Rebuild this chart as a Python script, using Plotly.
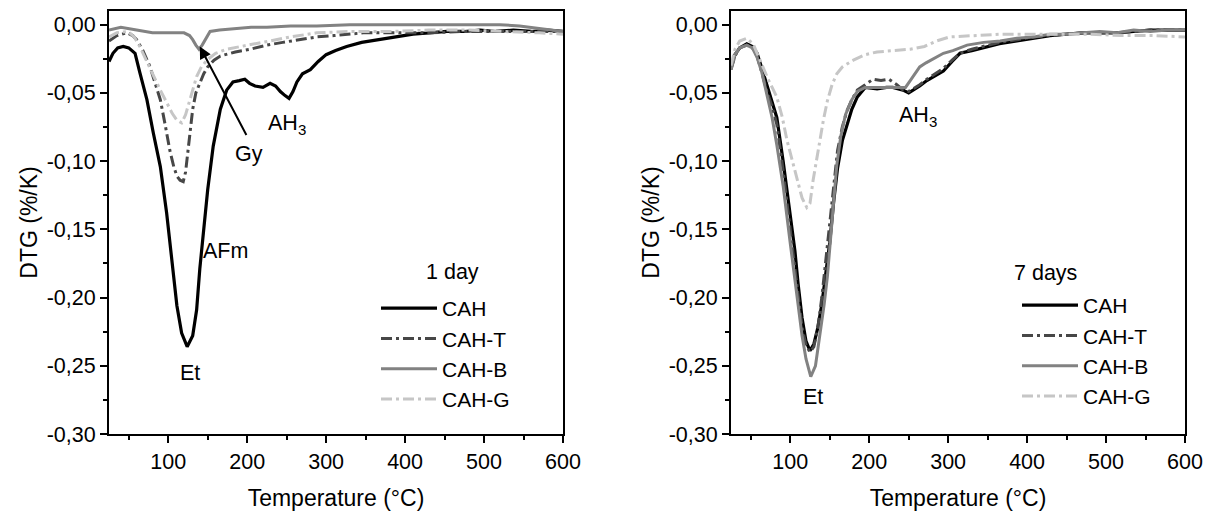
import plotly.graph_objects as go

# ---------------- data: 1 day ----------------
cah_1d_x = [25, 30, 36, 43, 50, 58, 64, 73, 81, 90, 98, 105, 111, 117, 124, 131, 136, 140, 145, 150,
            157, 166, 174, 182, 190, 197, 203, 210, 220, 229, 236, 242, 248, 253, 258, 263, 270, 280, 290, 300,
            312, 326, 345, 368, 390, 410, 430, 453, 475, 495, 515, 537, 560, 580, 600]
cah_1d_y = [-0.027, -0.021, -0.017, -0.016, -0.017, -0.021, -0.035, -0.055, -0.079, -0.104,
            -0.138, -0.172, -0.206, -0.226, -0.236, -0.228, -0.209, -0.179, -0.150, -0.121,
            -0.089, -0.062, -0.048, -0.042, -0.041, -0.040, -0.043, -0.045, -0.046, -0.043,
            -0.045, -0.049, -0.052, -0.054, -0.049, -0.042, -0.036, -0.033, -0.027, -0.022,
            -0.019, -0.016, -0.013, -0.011, -0.009, -0.007, -0.006, -0.005, -0.005, -0.004,
            -0.005, -0.004, -0.005, -0.004, -0.005]

caht_1d_x = [25, 35, 48, 55, 60, 68, 77, 84, 90, 96, 102, 107, 111, 115, 119, 122, 125, 128, 131, 135,
             140, 145, 150, 158, 166, 185, 204, 225, 245, 267, 288, 310, 347, 390, 432, 470, 510, 550, 600]
caht_1d_y = [-0.012, -0.008, -0.006, -0.008, -0.011, -0.019, -0.031, -0.043, -0.055, -0.073,
             -0.092, -0.104, -0.111, -0.114, -0.115, -0.108, -0.092, -0.076, -0.062, -0.050,
             -0.043, -0.036, -0.031, -0.026, -0.023, -0.020, -0.018, -0.015, -0.013, -0.011,
             -0.009, -0.008, -0.006, -0.006, -0.006, -0.005, -0.005, -0.005, -0.005]

cahb_1d_x = [25, 40, 60, 80, 100, 120, 127, 131, 135, 139, 143, 147, 153, 165, 182, 205, 225, 255, 288, 330,
             380, 430, 480, 520, 545, 575, 600]
cahb_1d_y = [-0.004, -0.002, -0.004, -0.006, -0.006, -0.006, -0.008, -0.011, -0.015, -0.018,
             -0.015, -0.011, -0.005, -0.004, -0.003, -0.002, -0.002, -0.001, -0.001, 0.000,
             0.000, 0.000, 0.000, 0.000, -0.001, -0.003, -0.005]

cahg_1d_x = [25, 35, 49, 57, 64, 72, 81, 90, 98, 105, 111, 117, 122, 128, 132, 136, 142, 149, 160, 174,
             200, 225, 255, 288, 330, 380, 430, 480, 530, 570, 600]
cahg_1d_y = [-0.009, -0.006, -0.005, -0.009, -0.016, -0.026, -0.038, -0.048, -0.057, -0.065,
             -0.070, -0.072, -0.066, -0.055, -0.046, -0.038, -0.031, -0.026, -0.021, -0.018,
             -0.015, -0.012, -0.009, -0.006, -0.005, -0.005, -0.004, -0.004, -0.005, -0.006, -0.007]

# ---------------- data: 7 days ----------------
cah_7d_x = [25, 30, 36, 45, 52, 58, 64, 71, 77, 83, 91, 100, 106, 110, 115, 120, 125, 130, 135, 140,
            144, 150, 155, 160, 166, 172, 178, 185, 195, 210, 222, 230, 243, 250, 256, 264, 273, 284, 294, 305,
            315, 330, 344, 365, 387, 408, 429, 450, 471, 492, 514, 535, 556, 578, 600]
cah_7d_y = [-0.031, -0.022, -0.017, -0.014, -0.016, -0.021, -0.032, -0.046, -0.056, -0.068,
            -0.100, -0.141, -0.166, -0.190, -0.215, -0.232, -0.239, -0.234, -0.222, -0.205,
            -0.188, -0.160, -0.130, -0.105, -0.085, -0.073, -0.062, -0.053, -0.046, -0.047,
            -0.046, -0.046, -0.048, -0.050, -0.048, -0.045, -0.041, -0.037, -0.034, -0.027,
            -0.021, -0.019, -0.017, -0.014, -0.012, -0.010, -0.008, -0.007, -0.006, -0.006,
            -0.006, -0.005, -0.004, -0.004, -0.004]

caht_7d_x = [25, 30, 36, 45, 52, 58, 64, 71, 77, 83, 91, 100, 106, 110, 115, 120, 125, 130, 135, 140,
             144, 150, 155, 160, 166, 172, 178, 185, 195, 205, 215, 225, 235, 243, 250, 256, 264, 273, 284, 294,
             305, 315, 330, 344, 365, 387, 408, 429, 450, 471, 492, 514, 535, 556, 578, 600]
caht_7d_y = [-0.033, -0.023, -0.017, -0.015, -0.017, -0.023, -0.035, -0.050, -0.060, -0.073,
             -0.107, -0.150, -0.178, -0.200, -0.222, -0.235, -0.240, -0.236, -0.222, -0.200,
             -0.178, -0.145, -0.115, -0.092, -0.075, -0.063, -0.055, -0.048, -0.044, -0.040,
             -0.041, -0.040, -0.044, -0.048, -0.049, -0.047, -0.044, -0.040, -0.036, -0.032,
             -0.026, -0.021, -0.018, -0.016, -0.013, -0.011, -0.009, -0.008, -0.007, -0.006,
             -0.006, -0.006, -0.005, -0.004, -0.004, -0.004]

cahb_7d_x = [25, 30, 36, 45, 52, 58, 64, 71, 77, 83, 91, 100, 106, 110, 115, 120, 126, 132, 138, 143,
             147, 151, 155, 159, 164, 170, 178, 185, 195, 210, 225, 240, 246, 252, 258, 264, 272, 281, 294, 306,
             324, 345, 366, 387, 408, 429, 450, 471, 492, 514, 535, 556, 578, 600]
cahb_7d_y = [-0.033, -0.022, -0.017, -0.015, -0.017, -0.024, -0.035, -0.052, -0.068, -0.088,
             -0.118, -0.160, -0.188, -0.208, -0.228, -0.245, -0.258, -0.250, -0.227, -0.205,
             -0.185, -0.160, -0.130, -0.103, -0.082, -0.066, -0.055, -0.049, -0.046, -0.046,
             -0.046, -0.046, -0.046, -0.041, -0.036, -0.031, -0.028, -0.025, -0.021, -0.019,
             -0.015, -0.013, -0.012, -0.010, -0.009, -0.007, -0.007, -0.006, -0.005, -0.006,
             -0.004, -0.005, -0.004, -0.004]

cahg_7d_x = [25, 30, 36, 45, 53, 62, 72, 83, 90, 96, 103, 109, 115, 121, 125, 129, 133, 138, 142, 147,
             153, 159, 166, 180, 195, 210, 230, 252, 270, 285, 302, 330, 366, 400, 440, 480, 520, 560, 600]
cahg_7d_y = [-0.030, -0.018, -0.012, -0.010, -0.014, -0.026, -0.040, -0.053, -0.068, -0.085,
             -0.100, -0.114, -0.127, -0.134, -0.131, -0.114, -0.100, -0.085, -0.070, -0.056,
             -0.044, -0.036, -0.031, -0.026, -0.022, -0.020, -0.019, -0.018, -0.016, -0.012,
             -0.009, -0.008, -0.007, -0.007, -0.007, -0.007, -0.008, -0.008, -0.009]

series_names = ["CAH", "CAH-T", "CAH-B", "CAH-G"]
x_tick_vals = [100, 200, 300, 400, 500, 600]
x_minor_vals = [50, 150, 250, 350, 450, 550]
y_tick_vals = [-0.30, -0.25, -0.20, -0.15, -0.10, -0.05, 0.00]
y_tick_text = ["-0,30", "-0,25", "-0,20", "-0,15", "-0,10", "-0,05", "0,00"]
y_minor_vals = [-0.275, -0.225, -0.175, -0.125, -0.075, -0.025]

FONT = "Liberation Sans, Arial, sans-serif"
FS_TICK = 21.5
FS_TITLE = 23
FS_LEG = 21
FS_ANN = 21.5
styles = [
    dict(color="#000000", width=3.2, dash="solid"),
    dict(color="#474747", width=3, dash="11px,4px,3px,4px"),
    dict(color="#828282", width=3, dash="solid"),
    dict(color="#c6c6c6", width=3, dash="11px,4px,3px,4px"),
]

fig = go.Figure()
data_1d = [(cah_1d_x, cah_1d_y), (caht_1d_x, caht_1d_y), (cahb_1d_x, cahb_1d_y), (cahg_1d_x, cahg_1d_y)]
data_7d = [(cah_7d_x, cah_7d_y), (caht_7d_x, caht_7d_y), (cahb_7d_x, cahb_7d_y), (cahg_7d_x, cahg_7d_y)]

for i, (name, (xs, ys)) in enumerate(zip(series_names, data_1d)):
    fig.add_trace(go.Scatter(x=xs, y=ys, mode="lines", name=name, line=styles[i],
                             xaxis="x", yaxis="y", legend="legend"))
for i, (name, (xs, ys)) in enumerate(zip(series_names, data_7d)):
    fig.add_trace(go.Scatter(x=xs, y=ys, mode="lines", name=name, line=styles[i],
                             xaxis="x2", yaxis="y2", legend="legend2"))

H = 514.0
W = 1213.0
ydom = [1 - 434 / H, 1 - 11 / H]


def xaxis_cfg(dom, anchor):
    return dict(domain=dom, range=[25, 600], anchor=anchor, automargin=False,
                tickmode="array", tickvals=x_tick_vals,
                showline=True, linewidth=2, linecolor="black", mirror=True,
                ticks="outside", ticklen=7, tickwidth=2, tickcolor="black",
                minor=dict(tickvals=x_minor_vals, ticks="outside", ticklen=4, tickwidth=2, tickcolor="black"),
                showgrid=False, zeroline=False,
                tickfont=dict(family=FONT, size=FS_TICK, color="black"),
                title=dict(text="Temperature (°C)", font=dict(family=FONT, size=FS_TITLE, color="black"),
                           standoff=17))


def yaxis_cfg(anchor):
    return dict(domain=ydom, range=[-0.30, 0.01], anchor=anchor, automargin=False,
                tickmode="array", tickvals=y_tick_vals, ticktext=y_tick_text,
                showline=True, linewidth=2, linecolor="black", mirror=True,
                ticks="outside", ticklen=7, tickwidth=2, tickcolor="black",
                minor=dict(tickvals=y_minor_vals, ticks="outside", ticklen=4, tickwidth=2, tickcolor="black"),
                showgrid=False, zeroline=False,
                tickfont=dict(family=FONT, size=FS_TICK, color="black"),
                title=dict(text="DTG (%/K)", font=dict(family=FONT, size=FS_TITLE, color="black"), standoff=3))


leg_common = dict(font=dict(family=FONT, size=FS_LEG, color="black"), bgcolor="rgba(0,0,0,0)",
                  borderwidth=0, xanchor="left", yanchor="top", tracegroupgap=0, itemwidth=56)

ann_font = dict(family=FONT, size=FS_ANN, color="black")
annotations = [
    dict(text="AH<sub>3</sub>", x=250, y=-0.073, xref="x", yref="y", showarrow=False, font=ann_font),
    dict(text="Gy", x=202, y=-0.095, xref="x", yref="y", showarrow=False, font=ann_font),
    dict(text="AFm", x=173, y=-0.166, xref="x", yref="y", showarrow=False, font=ann_font),
    dict(text="Et", x=128, y=-0.255, xref="x", yref="y", showarrow=False, font=ann_font),
    dict(text="", x=140, y=-0.016, ax=200, ay=-0.082, xref="x", yref="y", axref="x", ayref="y",
         showarrow=True, arrowhead=2, arrowsize=1.2, arrowwidth=2, arrowcolor="black"),
    dict(text="AH<sub>3</sub>", x=262, y=-0.067, xref="x2", yref="y2", showarrow=False, font=ann_font),
    dict(text="Et", x=129, y=-0.273, xref="x2", yref="y2", showarrow=False, font=ann_font),
    dict(text="1 day", x=452 / W, y=1 - 272 / H, xref="paper", yref="paper", xanchor="center",
         yanchor="middle", showarrow=False, font=ann_font),
    dict(text="7 days", x=1045 / W, y=1 - 273 / H, xref="paper", yref="paper", xanchor="center",
         yanchor="middle", showarrow=False, font=ann_font),
]

fig.update_layout(
    template="none",
    width=1213, height=514,
    margin=dict(l=0, r=0, t=0, b=0, autoexpand=False),
    paper_bgcolor="white", plot_bgcolor="white",
    font=dict(family=FONT, size=FS_TICK, color="black"),
    xaxis=xaxis_cfg([109 / W, 563 / W], "y"),
    yaxis=yaxis_cfg("x"),
    xaxis2=xaxis_cfg([731 / W, 1185 / W], "y2"),
    yaxis2=yaxis_cfg("x2"),
    legend=dict(x=376 / W, y=1 - 288 / H, **leg_common),
    legend2=dict(x=1017 / W, y=1 - 285 / H, **leg_common),
    annotations=annotations,
    showlegend=True,
)

fig.write_html("out.html")
